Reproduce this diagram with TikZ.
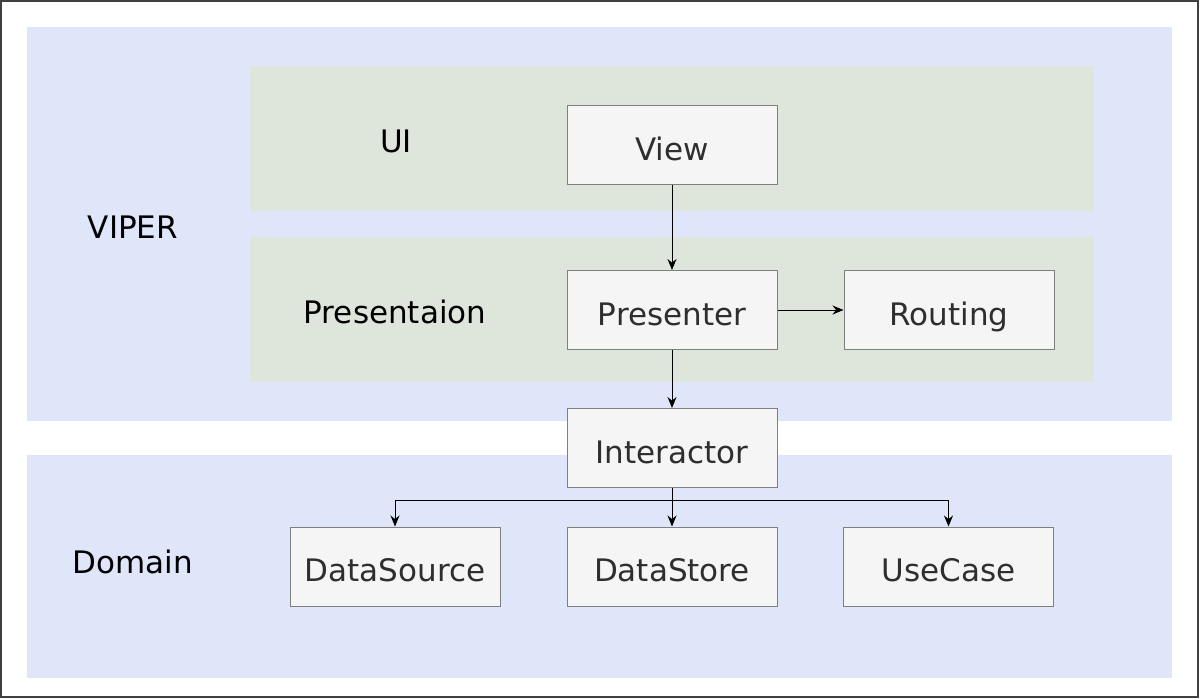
\documentclass[tikz,border=0pt]{standalone}
\usepackage{fontspec}
\setmainfont{DejaVu Sans}
\usetikzlibrary{positioning, arrows.meta}
\definecolor{viperblue}{HTML}{DFE6FA}
\definecolor{layergreen}{HTML}{DEE6DB}
\definecolor{boxfill}{HTML}{F5F5F5}
\definecolor{boxline}{HTML}{7F7F7F}
\definecolor{txtgray}{HTML}{2E2E2E}
\begin{document}
\begin{tikzpicture}[x=1pt, y=-1pt, >={Stealth[length=11pt, width=9pt]}]
        % --- Définition des styles ---
        \tikzset{
            frame_line/.style={draw=black!75, line width=2pt},
            zone_blue/.style={fill=viperblue},
            zone_green/.style={fill=layergreen},
            comp_box/.style={draw=boxline, fill=boxfill, line width=1pt,
                minimum width=210pt, minimum height=79pt, inner sep=0pt,
                text height=30pt, text depth=0pt,
                font=\fontsize{31}{36}\selectfont, text=txtgray},
            zone_label/.style={font=\fontsize{31}{36}\selectfont, text=black},
            link/.style={->, black, line width=1pt}
        }
        \useasboundingbox (0,0) rectangle (1200,699);

        % =====================================================================
        % FONDS : cadre, zones bleues et couches vertes
        % =====================================================================
        \draw[frame_line] (1,1) rectangle (1198,697);
        \fill[zone_blue] (27,27) rectangle (1172,421);
        \fill[zone_blue] (27,455) rectangle (1172,678);
        \fill[zone_green] (250,66) rectangle (1094,211);
        \fill[zone_green] (250,237) rectangle (1094,382);

        % Etiquettes des zones
        \node[zone_label] (lblUI) at (396,141) {UI};
        \node[zone_label] (lblVIPER) at (133,227) {VIPER};
        \node[zone_label] (lblPres) at (395,312) {Presentaion};
        \node[zone_label] (lblDomain) at (133,562) {Domain};

        % =====================================================================
        % COMPOSANTS
        % =====================================================================
        \node[comp_box] (view) at (672,145) {View};
        \node[comp_box] (presenter) at (672,310) {Presenter};
        \node[comp_box, right=66pt of presenter] (routing) {Routing};
        \node[comp_box] (interactor) at (672,448) {Interactor};
        \node[comp_box] (dstore) at (672,566.5) {DataStore};
        \node[comp_box] (dsource) at (395,566.5) {DataSource};
        \node[comp_box] (usecase) at (948.5,566.5) {UseCase};

        % =====================================================================
        % LIAISONS
        % =====================================================================
        \draw[link] (view) -- (presenter);
        \draw[link] (presenter) -- (routing);
        \draw[link] (presenter) -- (interactor);
        \draw[link] (interactor) -- (dstore);
        \coordinate (branch) at (672,500);
        \draw[link] (branch) -| (dsource.north);
        \draw[link] (branch) -| (usecase.north);

    \end{tikzpicture}
\end{document}
